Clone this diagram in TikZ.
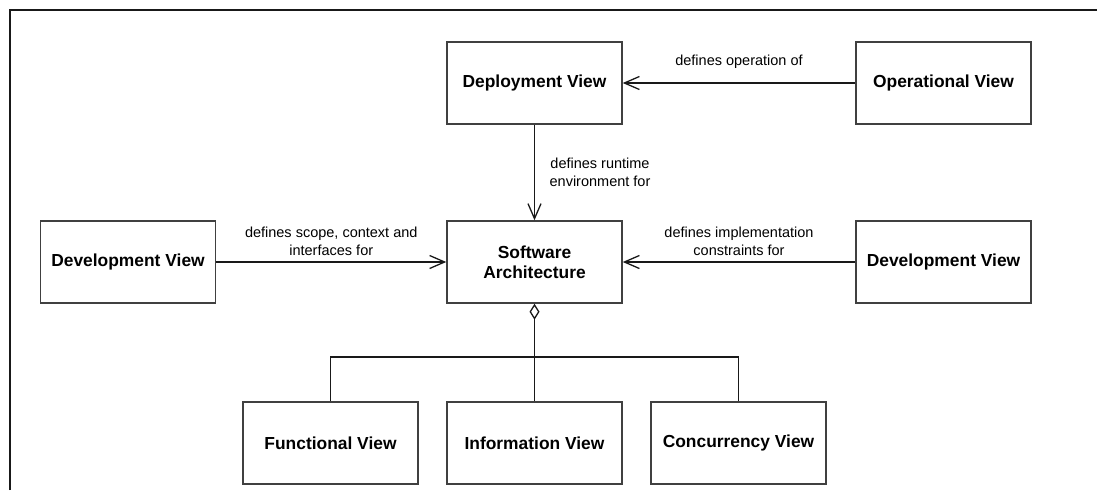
\documentclass[tikz,border=0pt]{standalone}
\usepackage{fontspec}
\setmainfont{Liberation Sans}
\usetikzlibrary{arrows.meta}
\tikzset{
  viewbox/.style={draw=black!75, line width=1.5pt, fill=white,
    minimum width=175pt, minimum height=82pt, inner sep=2pt, align=center,
    font=\fontsize{17.4}{20}\selectfont\bfseries},
  rel/.style={draw=black!90, line width=1.3pt,
    -{Straight Barb[length=15pt,width=13pt,line width=1.3pt]}},
  agg/.style={draw=black!90, line width=1.3pt},
  lbl/.style={align=center, inner sep=1pt,
    font=\fontsize{14.5}{18}\selectfont},
}
\begin{document}
\begin{tikzpicture}[x=1pt,y=-1pt]
  \useasboundingbox (0,0) rectangle (1097,490);
  % outer frame (top and left edges)
  \draw[line width=2pt, black!90] (9.5,490) -- (9.5,9.5) -- (1097,9.5);

  % views
  \node[viewbox] (deploy) at (534.5,83)  {Deployment View};
  \node[viewbox] (oper)   at (943.5,83)  {Operational View};
  \node[viewbox] (sa)     at (534.5,262) {Software\\Architecture};
  \node[viewbox] (devl)   at (128,262)   {Development View};
  \node[viewbox] (devr)   at (943.5,262) {Development View};
  \node[viewbox] (func)   at (330.5,443) {Functional View};
  \node[viewbox] (info)   at (534.5,443) {Information View};
  \node[viewbox] (conc)   at (738.5,443) {Concurrency View};

  % dependencies
  \draw[rel] (oper) -- node[lbl, yshift=21pt] {defines operation of} (deploy);
  \draw[rel] (deploy) -- node[lbl, xshift=65.5pt] {defines runtime\\environment for} (sa);
  \draw[rel] (devl) -- node[lbl, yshift=21pt] {defines scope, context and\\interfaces for} (sa);
  \draw[rel] (devr) -- node[lbl, yshift=21pt] {defines implementation\\constraints for} (sa);

  % aggregation of the component views
  \coordinate (bus) at (534.5,357);
  \draw[agg, {Diamond[open,length=16pt,width=10pt,line width=1.3pt]}-] (sa.south) -- (info.north);
  \draw[agg] (func.north) |- (bus) -| (conc.north);
\end{tikzpicture}
\end{document}
